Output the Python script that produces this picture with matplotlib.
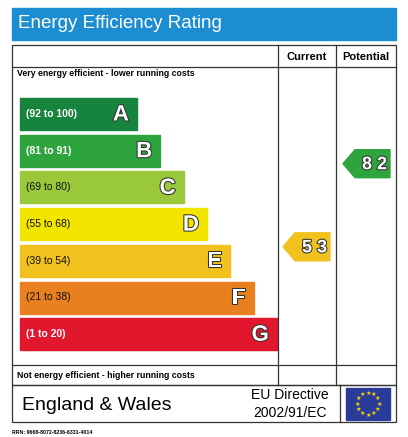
import matplotlib
matplotlib.use("Agg")
import matplotlib.pyplot as plt
import matplotlib.patheffects as pe
from matplotlib.patches import Rectangle, Polygon

bands = ["A", "B", "C", "D", "E", "F", "G"]
ranges = ["(92 to 100)", "(81 to 91)", "(69 to 80)", "(55 to 68)", "(39 to 54)", "(21 to 38)", "(1 to 20)"]
colors = ["#16843c", "#2ea43e", "#99c93a", "#f2e600", "#f1c21d", "#e8801f", "#e2162c"]
current = 53
potential = 82
current_band = "E"
potential_band = "B"

W, H = 408, 437
fig = plt.figure(figsize=(W/100, H/100), dpi=100)
ax = fig.add_axes([0, 0, 1, 1])
ax.set_xlim(0, W); ax.set_ylim(H, 0); ax.axis("off")

# title
ax.add_patch(Rectangle((12, 8), 384, 32, color="#1c8dd0"))
ax.text(18, 24, "Energy Efficiency Rating", color="white", fontsize=13.5, va="center", family="Liberation Sans")

lw = 0.9
ax.add_patch(Rectangle((12, 45), 384, 340, fill=False, lw=lw, ec="#333"))
ax.plot([278, 278], [45, 385], color="#333", lw=lw)
ax.plot([336, 336], [45, 385], color="#333", lw=lw)
ax.plot([12, 396], [67, 67], color="#333", lw=lw)
ax.plot([12, 396], [365, 365], color="#333", lw=lw)
ax.text(307, 57, "Current", ha="center", va="center", fontsize=8, weight="bold", family="Liberation Sans")
ax.text(366, 57, "Potential", ha="center", va="center", fontsize=8, weight="bold", family="Liberation Sans")
ax.text(17, 73, "Very energy efficient - lower running costs", fontsize=6.3, weight="bold", va="center", family="Liberation Sans")
ax.text(17, 375, "Not energy efficient - higher running costs", fontsize=6.3, weight="bold", va="center", family="Liberation Sans")

ytop = {}
for i, (b, r, c) in enumerate(zip(bands, ranges, colors)):
    y = 98 + i * 36.7
    w = 117 + i * 23.3
    ytop[b] = y
    ax.add_patch(Rectangle((20, y), w, 32, color=c))
    ax.text(26, y + 16, r, color="white" if i in (0, 1, 6) else "#111", fontsize=7.5, va="center", family="Liberation Sans",
            weight="bold" if i in (0,1,6) else "normal")
    ax.text(20 + w - 8, y + 17, b, color="white", fontsize=16, weight="bold", ha="right", va="center",
            family="Liberation Sans", path_effects=[pe.withStroke(linewidth=1.5, foreground="#333")])

def arrow(x0, x1, y, val, col):
    h = 28
    ax.add_patch(Polygon([(x0, y + h/2), (x0 + 12, y), (x1, y), (x1, y + h), (x0 + 12, y + h)], color=col))
    ax.text((x0 + 12 + x1) / 2 + 2, y + h/2 + 1, f"{val // 10} {val % 10}", color="white", fontsize=13, weight="bold",
            ha="center", va="center", family="Liberation Sans",
            path_effects=[pe.withStroke(linewidth=1.5, foreground="#333")])

arrow(283, 330, ytop[current_band] - 12, current, colors[bands.index(current_band)])
arrow(343, 390, ytop[potential_band] + 15, potential, colors[bands.index(potential_band)])

# footer
ax.add_patch(Rectangle((12, 385), 384, 37, fill=False, lw=lw, ec="#333"))
ax.plot([340, 340], [385, 422], color="#333", lw=lw)
ax.text(22, 405, "England & Wales", fontsize=14, va="center", family="Liberation Sans")
ax.text(290, 395, "EU Directive", fontsize=10, ha="center", va="center", family="Liberation Sans")
ax.text(290, 413, "2002/91/EC", fontsize=10, ha="center", va="center", family="Liberation Sans")
ax.add_patch(Rectangle((346, 388), 44, 32, color="#2a3c9a"))
import numpy as np
for k in range(12):
    a = 2*np.pi*k/12
    ax.text(368 + 11*np.cos(a), 404 + 11*np.sin(a), "★", color="#ffd800", fontsize=4.5, ha="center", va="center")
ax.text(12, 432, "RRN: 9668-8072-8236-6331-4014", fontsize=3.8, weight="bold", va="center", family="Liberation Sans")

fig.savefig("out.png", dpi=100, facecolor="white")
